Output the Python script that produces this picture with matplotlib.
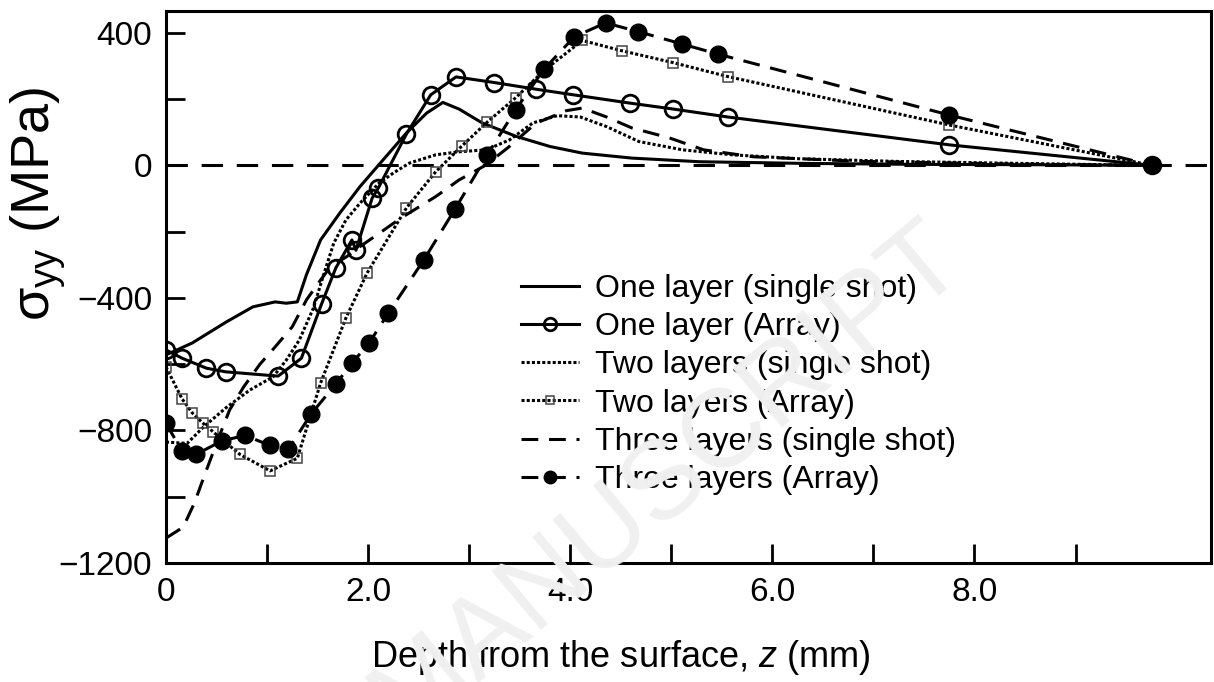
import numpy as np
import matplotlib
matplotlib.use("Agg")
import matplotlib.pyplot as plt

plt.rcParams['font.family'] = ['Liberation Sans', 'DejaVu Sans']
plt.rcParams['mathtext.fontset'] = 'custom'
plt.rcParams['mathtext.rm'] = 'Liberation Sans'
plt.rcParams['mathtext.it'] = 'Liberation Sans:italic'

# depth (mm) / sigma_yy (MPa)
one_single_x = [0, 0.26, 0.60, 0.86, 1.08, 1.19, 1.30, 1.39, 1.53, 1.72, 1.92, 2.09, 2.38,
                2.58, 2.74, 2.90, 3.13, 3.47, 3.80, 4.12, 4.61, 5.28, 6.31, 7.46, 8.61, 9.76]
one_single_y = [-572, -536, -472, -427, -412, -416, -412, -330, -225, -144, -64, -4, 98,
                158, 190, 170, 128, 87, 57, 37, 22, 11, 6, 3, 2, 0]

one_array_x = [0, 0.16, 0.40, 0.59, 1.11, 1.34, 1.54, 1.68, 1.84, 1.88, 2.04, 2.10, 2.38,
               2.62, 2.87, 3.25, 3.66, 4.03, 4.59, 5.02, 5.56, 7.75, 9.76]
one_array_y = [-557, -582, -612, -623, -636, -582, -418, -310, -225, -256, -99, -69, 95,
               213, 267, 250, 230, 213, 188, 170, 146, 62, 0]

two_single_x = [0, 0.21, 0.37, 0.60, 0.83, 1.06, 1.19, 1.32, 1.46, 1.55, 1.66, 1.78, 1.92,
                2.11, 2.25, 2.41, 2.67, 2.90, 3.17, 3.40, 3.63, 3.87, 4.10, 4.36, 4.68,
                5.11, 5.60, 6.27, 7.23, 8.45, 9.76]
two_single_y = [-835, -839, -790, -730, -678, -638, -588, -527, -430, -340, -235, -165, -114,
                -53, -23, 7, 32, 41, 47, 77, 128, 150, 146, 117, 72,
                47, 32, 20, 12, 6, 0]

two_array_x = [0, 0.16, 0.26, 0.37, 0.47, 0.73, 1.03, 1.30, 1.53, 1.78, 1.99, 2.38, 2.67,
               2.93, 3.18, 3.46, 3.74, 4.12, 4.51, 5.02, 5.56, 7.75, 9.76]
two_array_y = [-608, -705, -747, -779, -805, -872, -922, -884, -657, -461, -325, -128, -19,
               59, 131, 204, 286, 377, 346, 310, 268, 122, 0]

three_single_x = [0, 0.17, 0.28, 0.40, 0.52, 0.63, 0.77, 0.93, 1.08, 1.25, 1.39, 1.53, 1.63,
                  1.79, 1.92, 2.11, 2.32, 2.67, 2.90, 3.16, 3.39, 3.66, 3.96, 4.12, 4.36,
                  4.61, 4.98, 5.32, 5.81, 6.89, 8.38, 9.76]
three_single_y = [-1125, -1092, -1020, -920, -823, -738, -668, -600, -548, -487, -406, -346, -305,
                  -275, -245, -205, -160, -94, -44, 0, 55, 127, 165, 173, 146,
                  113, 83, 47, 26, 12, 4, 0]

three_array_x = [0, 0.16, 0.30, 0.55, 0.78, 1.03, 1.21, 1.44, 1.68, 1.84, 2.01, 2.20, 2.55,
                 2.86, 3.18, 3.46, 3.74, 4.04, 4.35, 4.67, 5.11, 5.46, 7.75, 9.76]
three_array_y = [-779, -862, -872, -832, -815, -845, -857, -749, -660, -597, -536, -446, -286,
                 -132, 32, 168, 290, 388, 430, 404, 366, 336, 152, 0]

x_ticks = [0, 2, 4, 6, 8]
x_labels = ['0', '2.0', '4.0', '6.0', '8.0']
y_ticks = [-1200, -800, -400, 0, 400]
y_labels = ['\u22121200', '\u2212800', '\u2212400', '0', '400']


def main():
    fig = plt.figure(figsize=(12.14, 6.82), dpi=100)
    ax = fig.add_axes([0.1367, 0.1745, 0.8608, 0.8094])

    # faint watermark behind the plot
    fig.text(0.55, 0.30, 'MANUSCRIPT', fontsize=80, color='#f0f0f0',
             rotation=40, ha='center', va='center', zorder=0)
    ax.patch.set_alpha(0)

    ax.axhline(0, color='k', lw=2.2, dashes=(7, 4.5), zorder=1)

    lw = 2.2
    ax.plot(one_single_x, one_single_y, '-', color='k', lw=lw,
            label='One layer (single shot)')
    ax.plot(one_array_x, one_array_y, '-', color='k', lw=lw, marker='o', ms=12,
            mfc='none', mec='k', mew=2.0, label='One layer (Array)')
    ax.plot(two_single_x, two_single_y, color='k', lw=lw, linestyle=(0, (1, 0.7)),
            label='Two layers (single shot)')
    ax.plot(two_array_x, two_array_y, color='k', lw=lw, linestyle=(0, (1, 0.7)), marker='s',
            ms=7, mfc='none', mec='#444444', mew=1.1, label='Two layers (Array)')
    ax.plot(three_single_x, three_single_y, color='k', lw=lw, dashes=(5.5, 3.5),
            label='Three layers (single shot)')
    ax.plot(three_array_x, three_array_y, color='k', lw=lw, dashes=(5.5, 3.5), marker='o',
            ms=12, mfc='k', mec='k', label='Three layers (Array)')

    ax.set_xlim(0, 10.34)
    ax.set_ylim(-1200, 466)
    ax.set_xticks(x_ticks)
    ax.set_xticklabels(x_labels)
    ax.set_xticks([1, 3, 5, 7, 9], minor=True)
    ax.set_yticks(y_ticks)
    ax.set_yticklabels(y_labels)
    ax.set_yticks([-1000, -600, -200, 200], minor=True)
    ax.tick_params(which='both', direction='in', length=14, width=2, labelsize=24, pad=10)

    for s in ax.spines.values():
        s.set_linewidth(2.2)

    ax.set_xlabel(r'Depth from the surface, $\mathit{z}$ (mm)', fontsize=26)
    ax.xaxis.set_label_coords(0.435, -0.135)
    ax.set_ylabel(r'σ$_{\mathregular{yy}}$ (MPa)', fontsize=39)
    ax.yaxis.set_label_coords(-0.094, 0.65)

    ax.legend(loc='upper left', bbox_to_anchor=(0.34, 0.524), frameon=False,
              fontsize=23, handlelength=1.8, handletextpad=0.5, labelspacing=0.26,
              borderaxespad=0, borderpad=0, numpoints=1, markerscale=0.75)

    fig.savefig('out.png', dpi=100)


if __name__ == "__main__":
    main()
